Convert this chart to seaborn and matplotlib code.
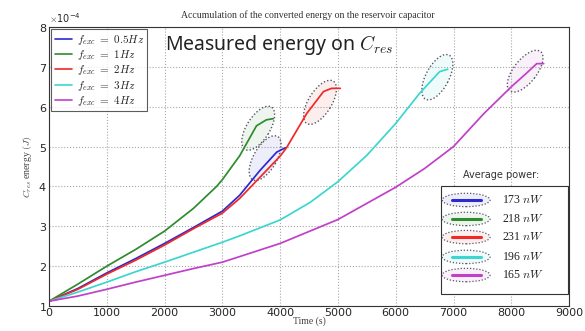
import numpy as np
import pandas as pd
import matplotlib
matplotlib.use("Agg")
import matplotlib.pyplot as plt
import matplotlib.transforms as mtransforms
from matplotlib.patches import Ellipse, Rectangle
from matplotlib.ticker import ScalarFormatter
import seaborn as sns

# energy values are in units of 1e-4 J
t_05 = [0, 500, 1000, 1500, 2000, 2500, 3000, 3300, 3650, 3940, 4090]
e_05 = [1.12, 1.44, 1.83, 2.19, 2.57, 2.97, 3.38, 3.78, 4.4, 4.86, 4.97]
t_1 = [0, 500, 1000, 1500, 2000, 2500, 2900, 3000, 3300, 3590, 3760, 3880]
e_1 = [1.12, 1.55, 2.0, 2.42, 2.88, 3.45, 4.0, 4.17, 4.77, 5.52, 5.67, 5.7]
t_2 = [0, 500, 1000, 1500, 2000, 2500, 3000, 3300, 4000, 4110, 4460, 4750, 4890, 5040]
e_2 = [1.12, 1.42, 1.8, 2.15, 2.53, 2.94, 3.33, 3.7, 4.76, 4.97, 5.83, 6.38, 6.46, 6.46]
t_3 = [0, 500, 1000, 1500, 2000, 2500, 3000, 3300, 4000, 4520, 5000, 5500, 6000, 6410, 6760, 6900]
e_3 = [1.12, 1.35, 1.6, 1.86, 2.1, 2.35, 2.6, 2.76, 3.16, 3.6, 4.12, 4.78, 5.58, 6.33, 6.88, 6.94]
t_4 = [0, 500, 1000, 1500, 2000, 2500, 3000, 3300, 4000, 5000, 6000, 6500, 7000, 7520, 8000, 8270, 8440, 8560]
e_4 = [1.12, 1.25, 1.42, 1.6, 1.77, 1.94, 2.1, 2.24, 2.57, 3.17, 3.98, 4.45, 5.0, 5.82, 6.5, 6.85, 7.08, 7.08]

freq_labels = [r"$f_{exc}\ =\ 0.5Hz$", r"$f_{exc}\ =\ 1Hz$", r"$f_{exc}\ =\ 2Hz$",
               r"$f_{exc}\ =\ 3Hz$", r"$f_{exc}\ =\ 4Hz$"]
colors = ["#2a2ad0", "#2e8b2e", "#f02828", "#3cd6d0", "#c040c8"]
power_labels = ["173", "218", "231", "196", "165"]
# dotted highlight ellipses around the end of each curve (data coords) and tilt
ell_x = [3740, 3620, 4690, 6720, 8240]
ell_y = [4.71, 5.46, 6.11, 6.74, 6.89]
ell_ang = [60, 58, 58, 62, 52]

times = [t_05, t_1, t_2, t_3, t_4]
energies = [e_05, e_1, e_2, e_3, e_4]

rows = []
for lab, tt, ee in zip(freq_labels, times, energies):
    for a, b in zip(tt, ee):
        rows.append({"time": a, "energy": b * 1e-4, "freq": lab})
df = pd.DataFrame(rows)

sns.set_style("whitegrid")
plt.rcParams["mathtext.fontset"] = "cm"
plt.rcParams["font.family"] = ["DejaVu Sans"]

fig = plt.figure(figsize=(5.85, 3.31), dpi=100)
ax = fig.add_axes([0.0838, 0.0755, 0.889, 0.843])

sns.lineplot(data=df, x="time", y="energy", hue="freq", hue_order=freq_labels,
             palette=dict(zip(freq_labels, colors)), linewidth=1.25, ax=ax,
             estimator=None, sort=False)

ax.set_xlim(0, 9000)
ax.set_ylim(1e-4, 8e-4)
ax.set_xticks(np.arange(0, 9001, 1000))
ax.set_yticks(np.arange(1, 9) * 1e-4)
fmt = ScalarFormatter(useMathText=True)
fmt.set_powerlimits((0, 0))
ax.yaxis.set_major_formatter(fmt)
ax.yaxis.get_offset_text().set_fontsize(7)
ax.tick_params(labelsize=8, direction="in", length=3, color="#555555", pad=1.5)
ax.grid(True, linestyle=":", color="#a8a8a8", linewidth=0.8)
for s in ax.spines.values():
    s.set_color("#333333")
    s.set_linewidth(0.8)

ax.set_xlabel("Time (s)", family="Liberation Serif", fontsize=7, labelpad=-1, color="#444444")
ax.set_ylabel(r"$C_{res}$ energy $(J)$", family="Liberation Serif", fontsize=7,
              labelpad=3, color="#444444")
fig.text(0.527, 0.955, "Accumulation of the converted energy on the reservoir capacitor",
         family="Liberation Serif", fontsize=7, ha="center", va="center", color="#333333")

leg = ax.legend(loc="upper left", fontsize=8, handlelength=1.6, handletextpad=0.4,
                borderpad=0.3, labelspacing=0.12, frameon=True, fancybox=False,
                borderaxespad=0.2)
leg.get_frame().set_edgecolor("#333333")
leg.get_frame().set_linewidth(0.8)
for h in leg.get_lines():
    h.set_linewidth(1.2)

ax.text(0.223, 0.935, r"Measured energy on $\mathit{C}_{res}$", transform=ax.transAxes,
        fontsize=14, family="Noto Sans", ha="left", va="center", color="#222222")

for x, y, ang, c in zip(ell_x, ell_y, ell_ang, colors):
    tr = fig.dpi_scale_trans + mtransforms.ScaledTranslation(x, y * 1e-4, ax.transData)
    ax.add_patch(Ellipse((0, 0), 0.5, 0.23, angle=ang, transform=tr,
                         facecolor=c, alpha=0.08, edgecolor="none"))
    ax.add_patch(Ellipse((0, 0), 0.5, 0.23, angle=ang, transform=tr, fill=False,
                         edgecolor="#555566", linestyle=(0, (1, 1.5)), linewidth=1.0))

# average power box
ax.text(0.796, 0.47, "Average power:", transform=ax.transAxes, fontsize=7,
        ha="left", va="center", color="#333333")
ax.add_patch(Rectangle((0.754, 0.043), 0.243, 0.387, transform=ax.transAxes,
                       facecolor="white", edgecolor="#333333", linewidth=0.8, zorder=5))
row_y = [0.38, 0.312, 0.247, 0.176, 0.111]
for yy, c, p in zip(row_y, colors, power_labels):
    ax.add_patch(Ellipse((0.802, yy), 0.092, 0.048, transform=ax.transAxes, zorder=6,
                         facecolor=c, alpha=0.08, edgecolor="none"))
    ax.add_patch(Ellipse((0.802, yy), 0.092, 0.048, transform=ax.transAxes, zorder=6,
                         fill=False, edgecolor="#555566", linestyle=(0, (1, 1.5)),
                         linewidth=0.9))
    ax.plot([0.775, 0.831], [yy, yy], color=c, linewidth=2.2, transform=ax.transAxes,
            zorder=7)
    ax.text(0.871, yy, p + r" $nW$", transform=ax.transAxes, fontsize=8.5,
            family="Liberation Serif", ha="left", va="center", zorder=7, color="#222222")

fig.savefig("out.png", dpi=100)
